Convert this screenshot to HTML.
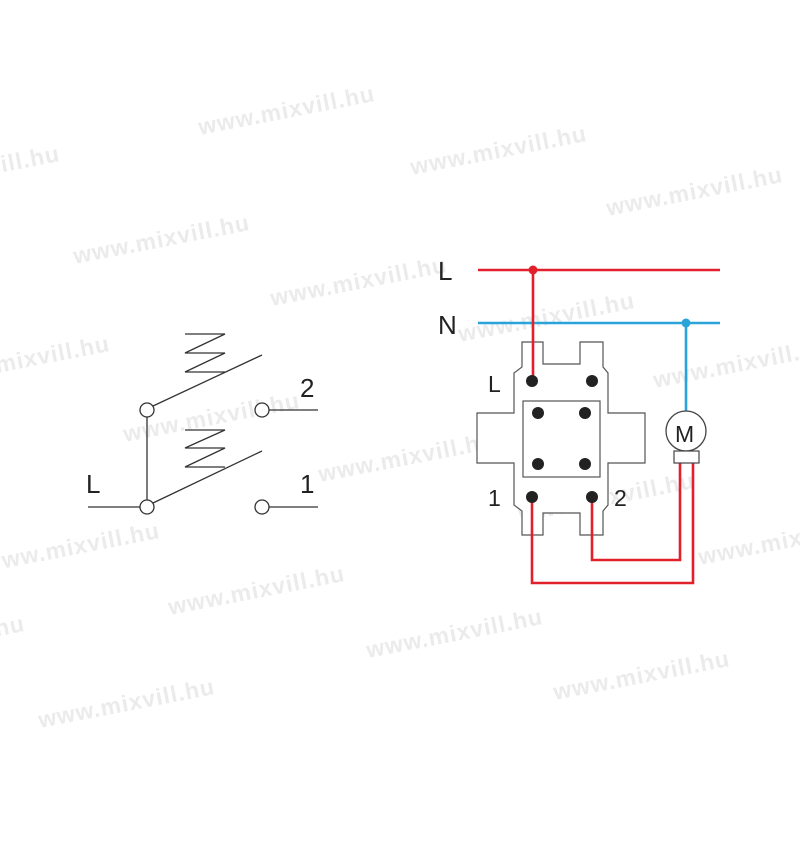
<!DOCTYPE html>
<html><head><meta charset="utf-8"><style>
html,body{margin:0;padding:0;background:#fff;}
body{width:800px;height:850px;overflow:hidden;position:relative;}
svg{position:absolute;left:0;top:0;}
</style></head><body>
<svg width="800" height="850" viewBox="0 0 800 850" xmlns="http://www.w3.org/2000/svg" font-family="Liberation Sans, sans-serif">
<g fill="#ebebeb" font-size="23" font-weight="bold" letter-spacing="1">
<text transform="translate(75,264) rotate(-11)">www.mixvill.hu</text>
<text transform="translate(-115,195) rotate(-11)">www.mixvill.hu</text>
<text transform="translate(412,175) rotate(-11)">www.mixvill.hu</text>
<text transform="translate(608,216) rotate(-11)">www.mixvill.hu</text>
<text transform="translate(272,306) rotate(-11)">www.mixvill.hu</text>
<text transform="translate(460,342) rotate(-11)">www.mixvill.hu</text>
<text transform="translate(-65,385) rotate(-11)">www.mixvill.hu</text>
<text transform="translate(655,388) rotate(-11)">www.mixvill.hu</text>
<text transform="translate(125,442) rotate(-11)">www.mixvill.hu</text>
<text transform="translate(320,482) rotate(-11)">www.mixvill.hu</text>
<text transform="translate(520,522) rotate(-11)">www.mixvill.hu</text>
<text transform="translate(700,565) rotate(-11)">www.mixvill.hu</text>
<text transform="translate(-15,572) rotate(-11)">www.mixvill.hu</text>
<text transform="translate(170,615) rotate(-11)">www.mixvill.hu</text>
<text transform="translate(368,658) rotate(-11)">www.mixvill.hu</text>
<text transform="translate(555,700) rotate(-11)">www.mixvill.hu</text>
<text transform="translate(-150,665) rotate(-11)">www.mixvill.hu</text>
<text transform="translate(40,728) rotate(-11)">www.mixvill.hu</text>
<text transform="translate(200,135) rotate(-11)">www.mixvill.hu</text>
</g>
<g stroke="#333" stroke-width="1.3" fill="none">
<line x1="88" y1="507" x2="140" y2="507"/>
<line x1="147" y1="417" x2="147" y2="500"/>
<line x1="153" y1="406" x2="262" y2="355"/>
<line x1="153" y1="503" x2="262" y2="451"/>
<line x1="269" y1="410" x2="318" y2="410"/>
<line x1="269" y1="507" x2="318" y2="507"/>
<polyline points="185,334 225,334 185,353 225,353 185,372 225,372"/>
<polyline points="185,430 225,430 185,448 225,448 185,467 225,467"/>
<circle cx="147" cy="410" r="7" fill="#fff"/>
<circle cx="147" cy="507" r="7" fill="#fff"/>
<circle cx="262" cy="410" r="7" fill="#fff"/>
<circle cx="262" cy="507" r="7" fill="#fff"/>
</g>
<g fill="#222" font-size="26">
<text x="86" y="493">L</text>
<text x="300" y="397">2</text>
<text x="300" y="493">1</text>
<text x="438" y="280">L</text>
<text x="438" y="334">N</text>
<text x="488" y="392" font-size="23">L</text>
<text x="488" y="506" font-size="23">1</text>
<text x="614" y="506" font-size="23">2</text>
<text x="675" y="442" font-size="23">M</text>
</g>
<path d="M522,342 H543 V364 H580 V342 H603 V367 L608,373 V413 H645 V463 H608 V505 L603,511 V535 H580 V513 H543 V535 H522 V511 L514,505 V463 H477 V413 H514 V373 L522,367 Z" fill="#fff" stroke="#555" stroke-width="1.2"/>
<rect x="523" y="401" width="77" height="76" fill="#fff" stroke="#555" stroke-width="1.2"/>
<g fill="none" stroke-width="2.6">
<line x1="478" y1="270" x2="720" y2="270" stroke="#e2202c"/>
<line x1="478" y1="323" x2="720" y2="323" stroke="#2aa3d8"/>
<line x1="686" y1="323" x2="686" y2="411" stroke="#2aa3d8"/>
<line x1="533" y1="270" x2="533" y2="381" stroke="#e2202c"/>
<polyline points="592,497 592,560 680,560 680,463" stroke="#e2202c"/>
<polyline points="532,497 532,583 693,583 693,463" stroke="#e2202c"/>
</g>
<circle cx="533" cy="270" r="4.5" fill="#e2202c"/>
<circle cx="686" cy="323" r="4.5" fill="#2aa3d8"/>
<g fill="#222">
<circle cx="532" cy="381" r="6"/><circle cx="592" cy="381" r="6"/>
<circle cx="538" cy="413" r="6"/><circle cx="585" cy="413" r="6"/>
<circle cx="538" cy="464" r="6"/><circle cx="585" cy="464" r="6"/>
<circle cx="532" cy="497" r="6"/><circle cx="592" cy="497" r="6"/>
</g>
<circle cx="686" cy="431" r="20" fill="none" stroke="#444" stroke-width="1.3"/>
<rect x="674" y="451" width="25" height="12" fill="#fff" stroke="#444" stroke-width="1.2"/>
</svg>
</body></html>
